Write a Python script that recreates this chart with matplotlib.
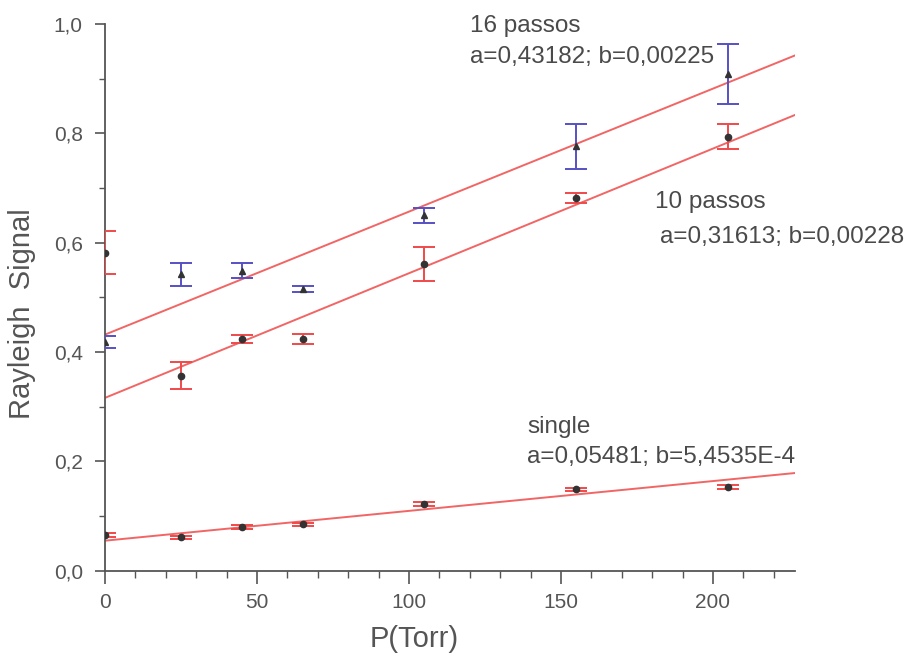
import numpy as np
import matplotlib
matplotlib.use('Agg')
import matplotlib.pyplot as plt
from matplotlib.ticker import MultipleLocator, FuncFormatter

plt.rcParams['font.family'] = ['Liberation Sans', 'DejaVu Sans']

# pressoes (Torr)
p = [0, 25, 45, 65, 105, 155, 205]

# 16 passos
s16 = [0.418, 0.542, 0.549, 0.515, 0.650, 0.776, 0.909]
e16 = [0.011, 0.021, 0.014, 0.005, 0.014, 0.041, 0.055]

# 10 passos
s10 = [0.582, 0.357, 0.424, 0.424, 0.561, 0.681, 0.794]
e10 = [0.039, 0.025, 0.007, 0.009, 0.031, 0.009, 0.023]

# single
s1 = [0.065, 0.061, 0.080, 0.085, 0.122, 0.149, 0.153]
e1 = [0.003, 0.003, 0.003, 0.003, 0.003, 0.003, 0.003]

# ajustes lineares y = a + b*x
fits = {'16': (0.43182, 0.00225), '10': (0.31613, 0.00228), 'single': (0.05481, 5.4535e-4)}

fig = plt.figure(figsize=(9.11, 6.62), dpi=100)
ax = fig.add_axes([0.1153, 0.138, 0.7574, 0.8257])

blue = '#5650c4'
red = '#f04a4a'
fitc = '#f26565'
txt = '#4a4a4a'
grey = '#555555'

xf = np.array([0, 227])
for k, (a, b) in fits.items():
    ax.plot(xf, a + b * xf, color=fitc, lw=1.4, zorder=2)

ax.errorbar(p, s16, yerr=e16, fmt='^', color='#333333', ms=4.5, ecolor=blue,
            elinewidth=1.4, capsize=8, capthick=1.4, zorder=3)
ax.errorbar(p, s10, yerr=e10, fmt='o', color='#333333', ms=4.5, ecolor=red,
            elinewidth=1.4, capsize=8, capthick=1.4, zorder=3)
ax.errorbar(p, s1, yerr=e1, fmt='o', color='#333333', ms=4.5, ecolor=red,
            elinewidth=1.4, capsize=8, capthick=1.4, zorder=3)

ax.set_xlim(0, 227)
ax.set_ylim(0, 1.0)

for s in ['top', 'right']:
    ax.spines[s].set_visible(False)
for s in ['left', 'bottom']:
    ax.spines[s].set_color(grey)
    ax.spines[s].set_linewidth(1.3)

ax.xaxis.set_major_locator(MultipleLocator(50))
ax.xaxis.set_minor_locator(MultipleLocator(10))
ax.yaxis.set_major_locator(MultipleLocator(0.2))
ax.yaxis.set_minor_locator(MultipleLocator(0.1))
ax.yaxis.set_major_formatter(FuncFormatter(lambda v, pos: ('%.1f' % v).replace('.', ',')))
ax.tick_params(axis='x', which='major', length=9, width=1.2, color=grey, labelsize=15,
               labelcolor=grey, pad=7)
ax.tick_params(axis='y', which='major', length=7, width=1.2, color=grey, labelsize=15,
               labelcolor=grey, pad=9)
ax.tick_params(axis='x', which='minor', length=5, width=1.0, color=grey)
ax.tick_params(axis='y', which='minor', length=4, width=1.0, color=grey)

ax.set_xlabel('P(Torr)', fontsize=21, color=grey)
ax.set_ylabel('Rayleigh  Signal', fontsize=21, color=grey)
ax.xaxis.set_label_coords(0.448, -0.1)
ax.yaxis.set_label_coords(-0.10, 0.47)

fs = 17.5
ax.text(120, 0.985, '16 passos', fontsize=fs, color=txt, va='baseline', clip_on=False)
ax.text(120, 0.929, 'a=0,43182; b=0,00225', fontsize=fs, color=txt, va='baseline')
ax.text(181, 0.663, '10 passos', fontsize=fs, color=txt, va='baseline')
ax.text(182.6, 0.599, 'a=0,31613; b=0,00228', fontsize=fs, color=txt, va='baseline',
        clip_on=False)
ax.text(138.8, 0.252, 'single', fontsize=fs, color=txt, va='baseline')
ax.text(138.8, 0.197, 'a=0,05481; b=5,4535E-4', fontsize=fs, color=txt, va='baseline')

fig.savefig('out.png', dpi=100)
